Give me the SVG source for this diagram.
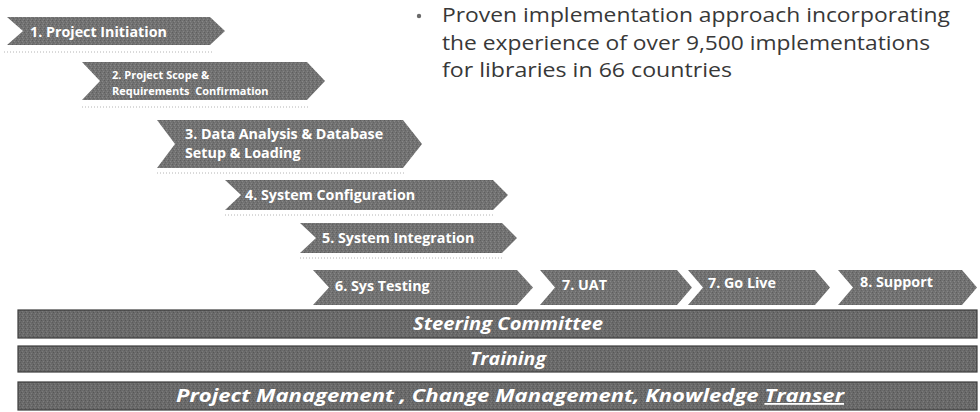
<svg xmlns="http://www.w3.org/2000/svg" width="980" height="412" viewBox="0 0 980 412">
<defs>
<pattern id="grain" width="4" height="4" patternUnits="userSpaceOnUse">
<rect width="4" height="4" fill="#727272"/>
<rect x="0" y="0" width="1" height="1" fill="#5e5e5e"/>
<rect x="2" y="1" width="1" height="1" fill="#888888"/>
<rect x="1" y="2" width="1" height="1" fill="#646464"/>
<rect x="3" y="3" width="1" height="1" fill="#848484"/>
</pattern>
<pattern id="grain2" width="4" height="4" patternUnits="userSpaceOnUse">
<rect width="4" height="4" fill="#6a6a6a"/>
<rect x="1" y="0" width="1" height="1" fill="#565656"/>
<rect x="3" y="1" width="1" height="1" fill="#7e7e7e"/>
<rect x="0" y="2" width="1" height="1" fill="#5c5c5c"/>
<rect x="2" y="3" width="1" height="1" fill="#7a7a7a"/>
</pattern>
<style>
.chev{fill:url(#grain);}
.lbl{font-family:"Open Sans","Liberation Sans",sans-serif;font-weight:bold;font-size:14.3px;fill:#ffffff;white-space:pre;}
.lbl.small{font-size:11px;}
.bar{fill:url(#grain2);stroke:#3c3c3c;stroke-width:1.2;}
.btxt{font-family:"Open Sans","Liberation Sans",sans-serif;font-weight:bold;font-style:italic;font-size:18px;fill:#ffffff;text-anchor:middle;}
.bul{font-family:"Open Sans","Liberation Sans",sans-serif;font-size:20px;fill:#383838;}
.shadow{fill:none;stroke:#b4b4b4;stroke-width:1;stroke-dasharray:1 2;}
</style>
</defs>
<rect width="980" height="412" fill="#ffffff"/>
<g id="bullet">
<circle cx="419" cy="16" r="2.2" fill="#6a6a6a"/>
<text class="bul" x="442" y="22" textLength="508" lengthAdjust="spacingAndGlyphs">Proven implementation approach incorporating</text>
<text class="bul" x="442" y="49.5" textLength="488" lengthAdjust="spacingAndGlyphs">the experience of over 9,500 implementations</text>
<text class="bul" x="442" y="77" textLength="290" lengthAdjust="spacingAndGlyphs">for libraries in 66 countries</text>
</g>
<g id="shadows">
<line class="shadow" x1="4" y1="52" x2="212" y2="52"/>
<line class="shadow" x1="82" y1="107" x2="308" y2="107"/>
<line class="shadow" x1="157" y1="173" x2="404" y2="173"/>
<line class="shadow" x1="225" y1="215" x2="493" y2="215"/>
<line class="shadow" x1="300" y1="258" x2="502" y2="258"/>
</g>
<g id="step1">
<polygon class="chev" points="7,17 210,17 225,31 210,45 7,45 23,31"/>
<text class="lbl" x="30" y="37">1. Project Initiation</text>
</g>
<g id="step2">
<polygon class="chev" points="82,62 307,62 325,81 307,100 82,100 100,81"/>
<text class="lbl small"><tspan x="112" y="79">2. Project Scope &amp;</tspan><tspan x="112" y="95">Requirements  Confirmation</tspan></text>
</g>
<g id="step3">
<polygon class="chev" points="157,120 403,120 422,144 403,168 157,168 175,144"/>
<text class="lbl"><tspan x="185" y="139">3. Data Analysis &amp; Database</tspan><tspan x="185" y="158">Setup &amp; Loading</tspan></text>
</g>
<g id="step4">
<polygon class="chev" points="225,180 493,180 508,195 493,210 225,210 241,195"/>
<text class="lbl" x="245" y="200">4. System Configuration</text>
</g>
<g id="step5">
<polygon class="chev" points="300,223 502,223 517,238 502,253 300,253 316,238"/>
<text class="lbl" x="322" y="243">5. System Integration</text>
</g>
<g id="step6">
<polygon class="chev" points="313,270 517,270 533,287.5 517,305 313,305 329,287.5"/>
<text class="lbl" x="335" y="291">6. Sys Testing</text>
</g>
<g id="step7uat">
<polygon class="chev" points="540,270 677,270 692,287.5 677,305 540,305 555,287.5"/>
<text class="lbl" x="562" y="290">7. UAT</text>
</g>
<g id="step7golive">
<polygon class="chev" points="688,270 815,270 830,287.5 815,305 688,305 703,287.5"/>
<text class="lbl" x="708" y="288">7. Go Live</text>
</g>
<g id="step8">
<polygon class="chev" points="838,270 962,270 977,287.5 962,305 838,305 853,287.5"/>
<text class="lbl" x="860" y="287">8. Support</text>
</g>
<g id="bar-steering">
<rect class="bar" x="18" y="310" width="959" height="28"/>
<text class="btxt" x="508" y="330" textLength="190" lengthAdjust="spacingAndGlyphs">Steering Committee</text>
</g>
<g id="bar-training">
<rect class="bar" x="18" y="346" width="959" height="26"/>
<text class="btxt" x="508" y="365" textLength="76" lengthAdjust="spacingAndGlyphs">Training</text>
</g>
<g id="bar-pm">
<rect class="bar" x="18" y="382" width="959" height="28"/>
<text class="btxt" x="510" y="402" textLength="668" lengthAdjust="spacingAndGlyphs">Project Management , Change Management, Knowledge <tspan text-decoration="underline">Transer</tspan></text>
</g>
</svg>
